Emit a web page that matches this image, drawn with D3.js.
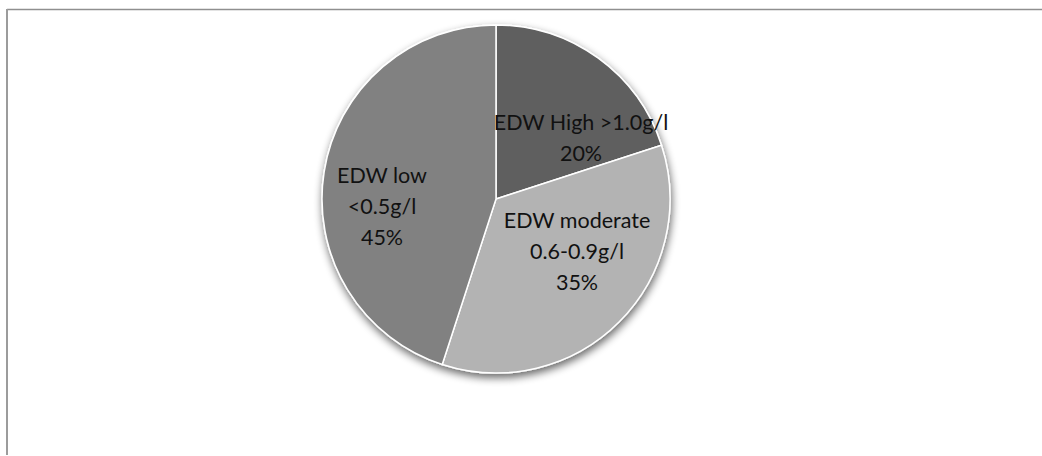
<!DOCTYPE html>
<html>
<head>
<meta charset="utf-8">
<script src="https://cdn.jsdelivr.net/npm/d3@7"></script>
<style>
  html, body { margin: 0; padding: 0; background: #fff; }
  svg { display: block; }
</style>
</head>
<body>
<svg id="chart" width="1042" height="456"></svg>
<script>
// EDW levels: share of samples in each concentration band
const categories = ["EDW High >1.0g/l", "EDW moderate 0.6-0.9g/l", "EDW low <0.5g/l"];
const labelLines = [["EDW High >1.0g/l"], ["EDW moderate", "0.6-0.9g/l"], ["EDW low", "<0.5g/l"]];
const values = [20, 35, 45];
const percentLabels = ["20%", "35%", "45%"];
const colors = ["#5f5f5f", "#b3b3b3", "#818181"];

const svg = d3.select("#chart");
const W = 1042, H = 456;
const cx = 496, cy = 199, radius = 174;

// chart frame (top and left edges)
svg.append("line").attr("x1", 7).attr("y1", 9.5).attr("x2", W).attr("y2", 9.5)
  .attr("stroke", "#8f8f8f").attr("stroke-width", 1.5);
svg.append("line").attr("x1", 7).attr("y1", 9).attr("x2", 7).attr("y2", H - 1)
  .attr("stroke", "#9c9c9c").attr("stroke-width", 2);

// soft shadow under the pie
const defs = svg.append("defs");
const f = defs.append("filter").attr("id", "shadow")
  .attr("x", "-20%").attr("y", "-20%").attr("width", "140%").attr("height", "140%");
f.append("feGaussianBlur").attr("in", "SourceAlpha").attr("stdDeviation", 4).attr("result", "b");
f.append("feOffset").attr("in", "b").attr("dx", 1).attr("dy", 4).attr("result", "o");
f.append("feComponentTransfer").attr("in", "o").attr("result", "s")
  .append("feFuncA").attr("type", "linear").attr("slope", 0.6);
const m = f.append("feMerge");
m.append("feMergeNode").attr("in", "s");
m.append("feMergeNode").attr("in", "SourceGraphic");

const pie = d3.pie().value(d => d).sort(null);
const arcs = pie(values);
const arc = d3.arc().innerRadius(0).outerRadius(radius);

const g = svg.append("g").attr("transform", `translate(${cx},${cy})`);
g.append("g").attr("filter", "url(#shadow)")
  .selectAll("path").data(arcs).enter().append("path")
  .attr("d", arc)
  .attr("fill", (d, i) => colors[i])
  .attr("stroke", "#fff").attr("stroke-width", 1.5).attr("stroke-linejoin", "round");

// labels: category lines followed by the percentage, centred on each anchor
const labelPos = [[85, -61], [81, 52], [-114, 7]];
const lineH = 31;
arcs.forEach((a, i) => {
  const lines = labelLines[i].concat([percentLabels[i]]);
  const t = g.append("text")
    .attr("text-anchor", "middle")
    .attr("font-family", "Lato, 'Open Sans', sans-serif")
    .attr("font-size", 21.5)
    .attr("fill", "#111");
  const y0 = labelPos[i][1] - (lines.length - 1) * lineH / 2;
  lines.forEach((s, k) => {
    t.append("tspan").attr("x", labelPos[i][0]).attr("y", y0 + k * lineH)
      .attr("dy", "0.35em").text(s);
  });
});
</script>
</body>
</html>
